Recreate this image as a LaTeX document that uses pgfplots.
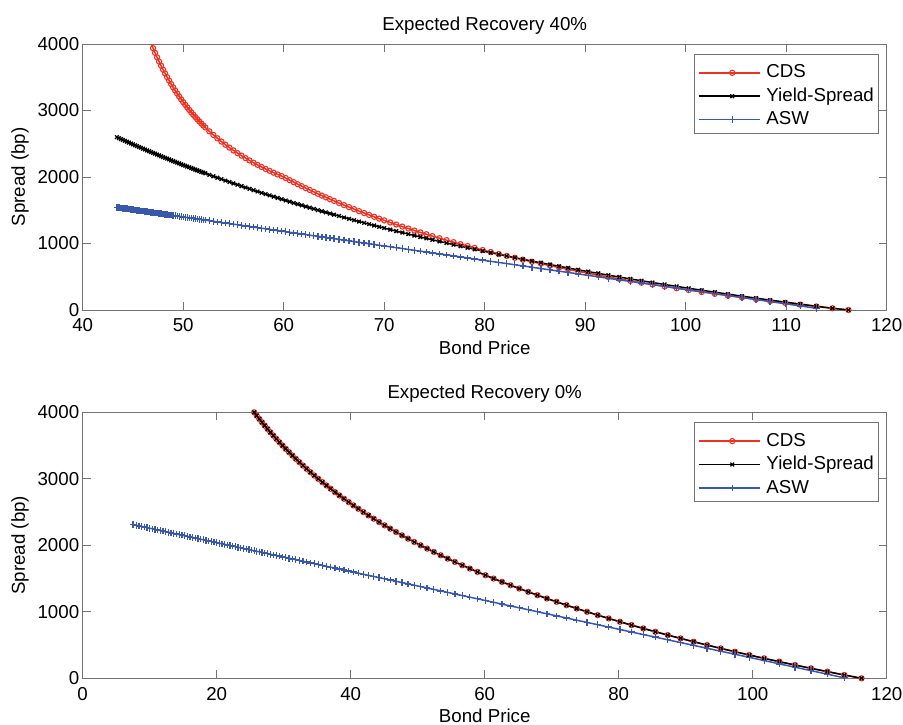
\documentclass[border=0pt]{standalone}
\usepackage{fontspec}
\setmainfont{Liberation Sans}
\usepackage{pgfplots}
\pgfplotsset{compat=1.18}
\usepackage{pgfplotstable}

\definecolor{cdsred}{RGB}{237,50,36}
\definecolor{aswblue}{RGB}{58,88,170}
\definecolor{axgray}{RGB}{115,115,115}

% expected recovery 40%: bond price, CDS, yield spread, asset swap spread (bp)
\pgfplotstableread{
p cds ys asw
116.2 0 0 nan
114.6 26 26 nan
113.0 53 57 26
111.4 80 89 61
109.9 107 119 94
108.4 134 149 126
107.0 161 179 157
105.6 188 208 187
104.2 217 239 218
102.9 244 268 246
101.6 271 297 275
100.3 300 327 303
99.1 327 355 329
97.9 355 384 355
96.7 384 413 382
95.6 411 440 405
94.5 439 467 429
93.4 468 496 453
92.3 497 524 477
91.3 525 551 499
90.3 553 577 521
89.3 582 605 543
88.3 612 632 565
87.4 640 658 584
86.5 668 683 604
85.6 697 710 623
84.7 726 736 643
83.8 757 763 663
83.0 785 787 680
82.2 813 812 698
81.4 842 837 715
80.6 872 862 732
79.8 902 887 750
79.0 934 913 767
78.3 962 936 783
77.6 990 959 798
76.9 1020 983 813
76.2 1050 1007 828
75.5 1080 1031 844
74.8 1111 1056 859
74.2 1139 1077 872
73.6 1167 1098 885
73.0 1195 1120 898
72.4 1225 1142 911
71.8 1254 1164 924
71.2 1285 1186 937
70.6 1316 1209 950
70.0 1348 1232 964
69.5 1374 1251 974
69.0 1402 1271 985
68.5 1430 1291 996
68.0 1458 1310 1007
67.5 1487 1330 1018
67.0 1517 1351 1029
66.5 1547 1371 1040
66.0 1578 1392 1051
65.5 1609 1413 1062
65.0 1641 1434 1073
64.6 1667 1451 1081
64.2 1694 1468 1090
63.8 1720 1485 1099
63.4 1748 1503 1107
63.0 1776 1520 1116
62.6 1804 1538 1125
62.2 1832 1556 1134
61.8 1862 1574 1142
61.4 1891 1592 1151
61.0 1922 1610 1160
60.6 1952 1629 1168
60.2 1984 1647 1177
59.8 2013 1666 1186
59.4 2038 1685 1195
59.0 2065 1704 1203
58.6 2093 1723 1212
58.2 2121 1743 1221
57.8 2151 1762 1230
57.4 2183 1782 1238
57.0 2215 1802 1247
56.6 2249 1822 1256
56.2 2284 1842 1264
55.8 2321 1863 1273
55.4 2360 1883 1282
55.0 2400 1904 1291
54.6 2442 1925 1299
54.2 2486 1946 1308
53.8 2533 1968 1317
53.4 2582 1989 1325
53.0 2633 2011 1334
52.6 2687 2033 1343
52.2 2745 2055 1352
52.0 2774 2066 1356
51.8 2805 2077 1360
51.6 2836 2089 1365
51.4 2869 2100 1369
51.2 2902 2111 1373
51.0 2937 2123 1378
50.8 2972 2134 1382
50.6 3009 2146 1386
50.4 3047 2157 1391
50.2 3086 2169 1395
50.0 3126 2180 1400
49.8 3167 2192 1404
49.6 3210 2204 1408
49.4 3255 2216 1413
49.2 3301 2228 1417
49.0 3348 2240 1421
48.8 3398 2252 1426
48.6 3449 2264 1430
48.4 3502 2276 1434
48.2 3557 2288 1439
48.0 3614 2300 1443
47.8 3674 2313 1448
47.6 3736 2325 1452
47.4 3800 2337 1456
47.2 3867 2350 1461
47.0 3937 2362 1465
46.8 4011 2375 1469
46.6 nan 2388 1474
46.4 nan 2400 1478
46.2 nan 2413 1482
46.0 nan 2426 1487
45.8 nan 2439 1491
45.6 nan 2452 1495
45.4 nan 2465 1500
45.2 nan 2478 1504
45.0 nan 2491 1509
44.8 nan 2504 1513
44.6 nan 2518 1517
44.4 nan 2531 1522
44.2 nan 2544 1526
44.0 nan 2558 1530
43.8 nan 2571 1535
43.6 nan 2585 1539
43.4 nan 2599 1543
}\topdata

% expected recovery 0%: CDS and yield spread coincide
\pgfplotstableread{
p s
116.25 0
113.67 50
111.15 100
108.70 150
106.31 200
103.98 250
101.71 300
99.50 350
97.34 400
95.24 450
93.19 500
91.19 550
89.24 600
87.33 650
85.48 700
83.67 750
81.91 800
80.19 850
78.51 900
76.87 950
75.28 1000
73.72 1050
72.21 1100
70.72 1150
69.28 1200
67.87 1250
66.50 1300
65.16 1350
63.85 1400
62.58 1450
61.33 1500
60.12 1550
58.93 1600
57.78 1650
56.65 1700
55.55 1750
54.48 1800
53.43 1850
52.41 1900
51.41 1950
50.43 2000
49.48 2050
48.56 2100
47.65 2150
46.77 2200
45.90 2250
45.06 2300
44.24 2350
43.44 2400
42.65 2450
41.89 2500
41.14 2550
40.41 2600
39.70 2650
39.00 2700
38.32 2750
37.66 2800
37.01 2850
36.38 2900
35.76 2950
35.15 3000
34.56 3050
33.99 3100
33.42 3150
32.87 3200
32.34 3250
31.81 3300
31.30 3350
30.80 3400
30.31 3450
29.83 3500
29.36 3550
28.90 3600
28.45 3650
28.01 3700
27.59 3750
27.17 3800
26.76 3850
26.36 3900
25.97 3950
25.59 4000
25.20 4050
}\lowdata

\pgfplotstableread{
p asw
113.67 7
111.15 62
108.70 115
106.31 167
103.98 217
101.71 267
99.50 315
97.34 362
95.24 407
93.19 452
91.19 495
89.24 537
87.33 579
85.48 619
83.67 658
81.91 696
80.19 734
78.51 770
76.87 806
75.28 840
73.72 874
72.21 907
70.72 939
69.28 970
67.87 1001
66.50 1031
65.16 1060
63.85 1088
62.58 1116
61.33 1143
60.12 1169
58.93 1195
57.78 1220
56.65 1244
55.55 1268
54.48 1292
53.43 1314
52.41 1337
51.41 1358
50.43 1379
49.48 1400
48.56 1420
47.65 1440
46.77 1459
45.90 1478
45.06 1496
44.24 1514
43.44 1531
42.65 1548
41.89 1565
41.14 1581
40.41 1597
39.70 1612
39.00 1628
38.32 1642
37.66 1657
37.01 1671
36.38 1684
35.76 1698
35.15 1711
34.56 1724
33.99 1736
33.42 1749
32.87 1761
32.34 1772
31.81 1784
31.30 1795
30.80 1805
30.31 1816
29.83 1826
29.36 1837
28.90 1847
28.45 1856
28.01 1866
27.59 1875
27.17 1884
26.76 1893
26.36 1902
25.97 1910
25.59 1918
25.2 1927
24.8 1936
24.4 1944
24.0 1953
23.6 1962
23.2 1970
22.8 1979
22.4 1988
22.0 1996
21.6 2005
21.2 2014
20.8 2022
20.4 2031
20.0 2040
19.6 2048
19.2 2057
18.8 2066
18.4 2075
18.0 2083
17.6 2092
17.2 2101
16.8 2109
16.4 2118
16.0 2127
15.6 2135
15.2 2144
14.8 2153
14.4 2161
14.0 2170
13.6 2179
13.2 2187
12.8 2196
12.4 2205
12.0 2213
11.6 2222
11.2 2231
10.8 2239
10.4 2248
10.0 2257
9.6 2265
9.2 2274
8.8 2283
8.4 2292
8.0 2300
7.6 2309
7.5 2311
}\lowasw

\pgfplotsset{
  mfig/.style={
    anchor=south west, scale only axis, width=804pt, height=266pt,
    font=\fontsize{18.7}{22}\selectfont,
    ymin=0, ymax=4000, ytick={0,1000,2000,3000,4000},
    scaled ticks=false,
    /pgf/number format/assume math mode=true,
    /pgf/number format/1000 sep={},
    axis line style={axgray, line width=0.8pt},
    every tick/.style={axgray, line width=0.8pt},
    major tick length=8pt, tick align=inside,
    xlabel={Bond Price}, ylabel={Spread (bp)},
    every axis title/.style={at={(axis description cs:0.5,1)}, anchor=base, yshift=13.5pt},
    every axis x label/.style={at={(axis description cs:0.5,0)}, anchor=base, yshift=-44pt},
    every axis y label/.style={at={(axis description cs:-0.0718,0.5)}, rotate=90, anchor=base},
    xticklabel style={anchor=base, yshift=-21.7pt, inner ysep=0pt},
    yticklabel style={inner ysep=0pt},
    legend cell align=left,
    legend image code/.code={%
      \path (0pt,-2.4pt) -- (61pt,-2.4pt);
      \draw[mark repeat=2,mark phase=2,#1] plot coordinates {(6pt,-2.4pt) (33.5pt,-2.4pt) (61pt,-2.4pt)};},
    legend style={at={(axis description cs:0.9904,0.9624)}, anchor=north east,
      draw=axgray, line width=0.8pt, fill=white, inner xsep=3.7pt, inner ysep=4.3pt,
      column sep=5pt, row sep=0pt,
      nodes={inner xsep=1pt, inner ysep=2.2pt, text height=17pt, text depth=2pt}},
  },
  cds/.style={cdsred, line width=1.5pt, mark=o, mark size=2.6pt, mark options={solid, line width=1.1pt}},
  ysp/.style={black, line width=1.5pt, mark=x, mark size=2.6pt, mark options={solid, line width=1.3pt}},
  asw/.style={aswblue, line width=1.5pt, mark=+, mark size=3.3pt, mark options={solid, line width=1.3pt}},
}

\begin{document}
\begin{tikzpicture}
\useasboundingbox (0,0) rectangle (903pt,-725pt);

\begin{axis}[mfig, at={(82.7pt,-310pt)},
  xmin=40, xmax=120, xtick={40,50,...,120},
  title={Expected Recovery 40\%}]
\addplot[cds] table[x=p, y=cds] {\topdata};
\addplot[ysp] table[x=p, y=ys] {\topdata};
\addplot[asw] table[x=p, y=asw] {\topdata};
\legend{CDS, Yield-Spread, ASW}
\end{axis}

\begin{axis}[mfig, at={(82.7pt,-678.3pt)},
  xmin=0, xmax=120, xtick={0,20,...,120},
  title={Expected Recovery 0\%}]
\addplot[cds] table[x=p, y=s] {\lowdata};
\addplot[ysp] table[x=p, y=s] {\lowdata};
\addplot[asw] table[x=p, y=asw] {\lowasw};
\legend{CDS, Yield-Spread, ASW}
\end{axis}
\end{tikzpicture}
\end{document}
